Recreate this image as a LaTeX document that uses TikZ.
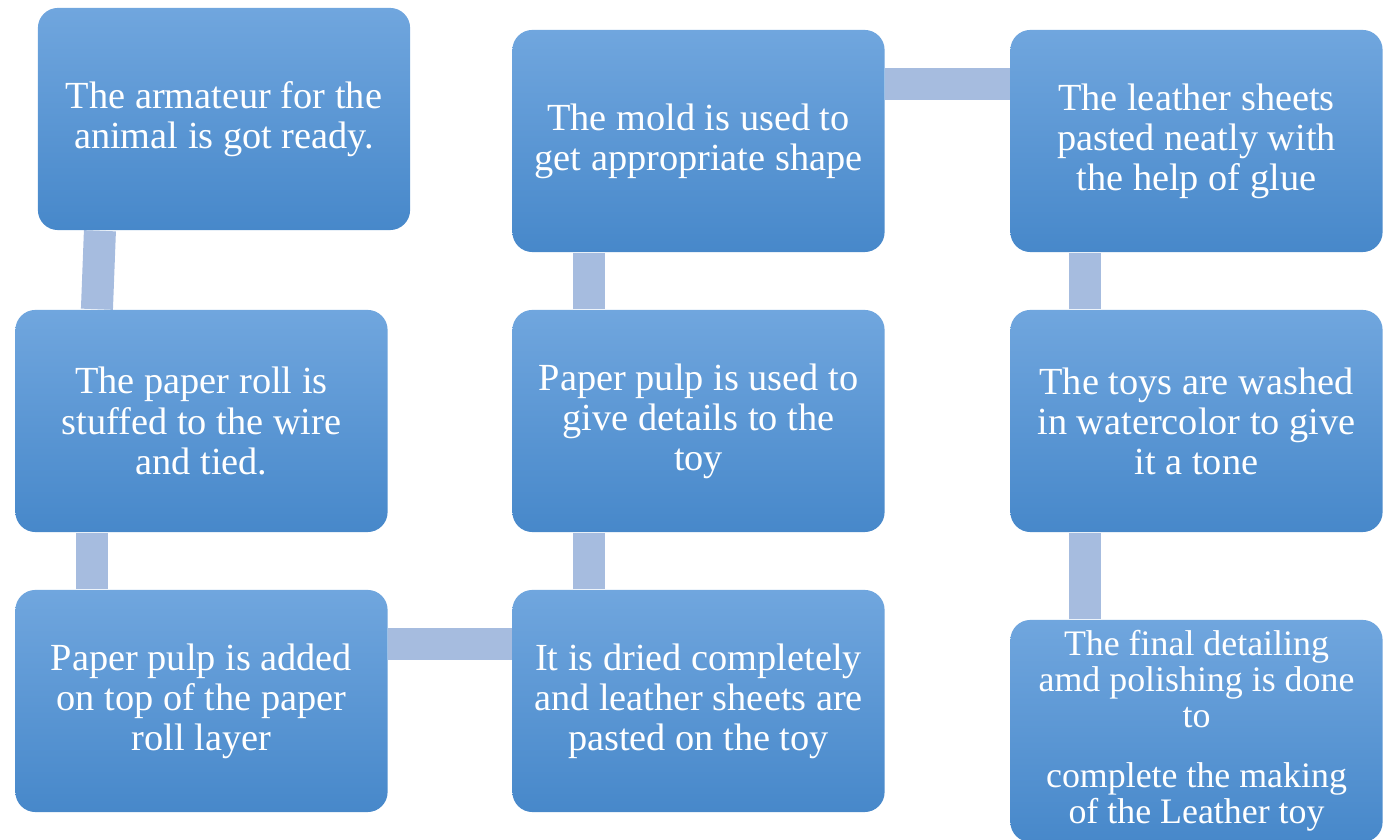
\documentclass[tikz,border=0pt]{standalone}
\usepackage{fontspec}
\setmainfont{Liberation Serif}
\usetikzlibrary{backgrounds}
\definecolor{boxtop}{HTML}{70A6DE}
\definecolor{boxbot}{HTML}{4788CA}
\definecolor{linkblue}{HTML}{A6BCDF}
\tikzset{
  stepbox/.style={rounded corners=0.2cm, minimum width=3.72cm, minimum height=2.22cm,
    inner sep=0pt, align=center, text=white, top color=boxtop, bottom color=boxbot,
    font=\fontsize{10.9}{11.4}\selectfont},
  link/.style={line width=0.32cm, draw=linkblue}
}

\begin{document}
\begin{tikzpicture}[x=0.01cm, y=-0.01cm]
      \useasboundingbox (0,0) rectangle (1390,840);

      \node[stepbox] (armature) at (224,119) {The armateur for the\\animal is got ready.};
      \node[stepbox] (roll) at (201.5,421) {The paper roll is\\stuffed to the wire\\and tied.};
      \node[stepbox] (pulp) at (201.5,701) {Paper pulp is added\\on top of the paper\\roll layer};
      \node[stepbox] (dried) at (698.5,701) {It is dried completely\\and leather sheets are\\pasted on the toy};
      \node[stepbox] (details) at (698.5,421) {Paper pulp is used to\\give details to the\\toy};
      \node[stepbox] (mold) at (698.5,141) {The mold is used to\\get appropriate shape};
      \node[stepbox] (sheets) at (1196.5,141) {The leather sheets\\pasted neatly with\\the help of glue};
      \node[stepbox] (washed) at (1196.5,421) {The toys are washed\\in watercolor to give\\it a tone};
      \node[stepbox, font=\fontsize{10.2}{10.2}\selectfont] (final) at (1196.5,731)
        {The final detailing\\amd polishing is done\\to\\[7pt]complete the making\\of the Leather toy};

      \begin{scope}[on background layer]
        \draw[link] ([xshift=-1.24cm]armature.south) -- ([xshift=-1.045cm]roll.north);
        \draw[link] ([xshift=-1.095cm]roll.south) -- ([xshift=-1.095cm]pulp.north);
        \draw[link] ([yshift=0.57cm]pulp.east) -- ([yshift=0.57cm]dried.west);
        \draw[link] ([xshift=-1.095cm]dried.north) -- ([xshift=-1.095cm]details.south);
        \draw[link] ([xshift=-1.095cm]details.north) -- ([xshift=-1.095cm]mold.south);
        \draw[link] ([yshift=0.57cm]mold.east) -- ([yshift=0.57cm]sheets.west);
        \draw[link] ([xshift=-1.115cm]sheets.south) -- ([xshift=-1.115cm]washed.north);
        \draw[link] ([xshift=-1.115cm]washed.south) -- ([xshift=-1.115cm]final.north);
      \end{scope}
    \end{tikzpicture}
\end{document}
